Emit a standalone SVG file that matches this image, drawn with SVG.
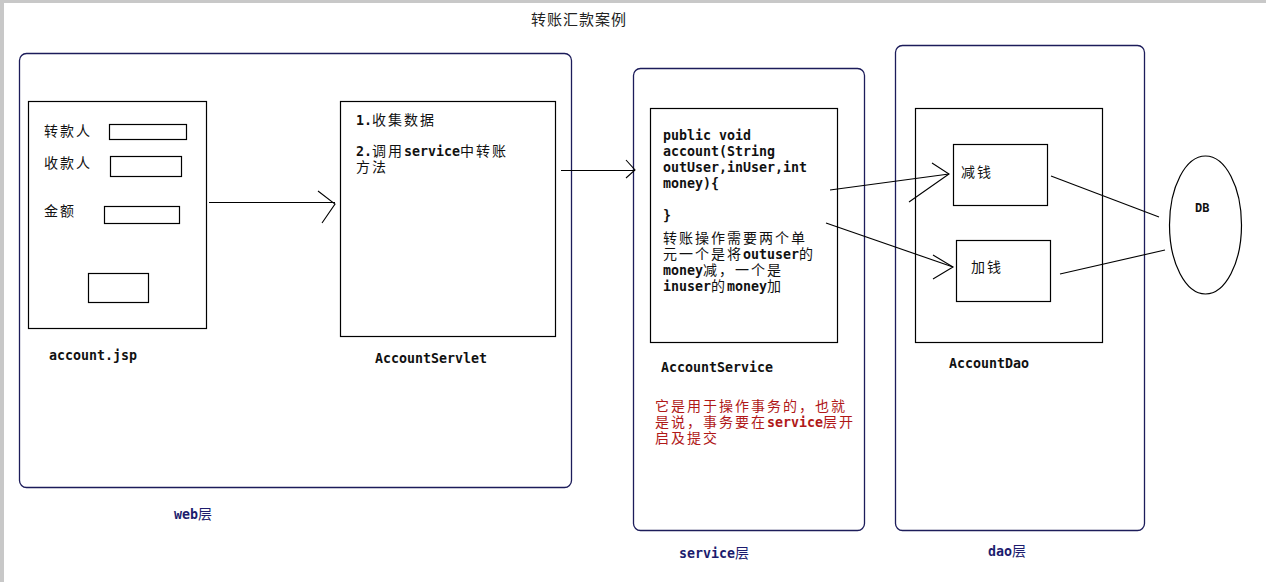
<svg xmlns="http://www.w3.org/2000/svg" width="1266" height="582" viewBox="0 0 1266 582">
<defs>
<style>
.bg{fill:#ffffff}
.layer{fill:none;stroke:#1c1c5a;stroke-width:1.3}
.box{fill:none;stroke:#000;stroke-width:1.2}
.ln{fill:none;stroke:#000;stroke-width:1.1}
.cn{font-family:"Noto Sans CJK SC","Noto Sans",sans-serif;font-size:14px;font-weight:normal;letter-spacing:2px;fill:#111}
.mono{font-family:"DejaVu Sans Mono","Liberation Mono",monospace;font-size:13.3px;font-weight:bold;letter-spacing:0;fill:#111}
.navy{fill:#1c1c6e}
.red{fill:#b01818}
.title{font-family:"Noto Sans CJK SC",sans-serif;font-size:15px;font-weight:normal;letter-spacing:1px;fill:#222}
</style>
</defs>
<rect class="bg" x="0" y="0" width="1266" height="582"/>
<rect x="0" y="0" width="1266" height="3" fill="#c8c8c8"/>
<rect x="0" y="0" width="4" height="582" fill="#c8c8c8"/>

<text class="title" x="531" y="25">转账汇款案例</text>

<g id="web-layer">
<rect class="layer" x="19.5" y="53.5" width="552" height="434" rx="7"/>
<text class="mono navy" x="174" y="519">web<tspan class="cn navy">层</tspan></text>
</g>

<g id="account-jsp">
<rect class="box" x="28.5" y="101.5" width="178" height="227"/>
<text class="cn" x="44" y="136">转款人</text>
<rect class="box" x="109.5" y="124.5" width="77" height="15"/>
<text class="cn" x="44" y="168">收款人</text>
<rect class="box" x="110.5" y="156.5" width="71" height="20"/>
<text class="cn" x="44" y="216">金额</text>
<rect class="box" x="104.5" y="206.5" width="75" height="17"/>
<rect class="box" x="88.5" y="273.5" width="60" height="29"/>
<text class="mono" x="49" y="360">account.jsp</text>
</g>

<g id="account-servlet">
<rect class="box" x="340.5" y="101.5" width="215" height="235"/>
<text class="mono" x="356" y="125">1.<tspan class="cn">收集数据</tspan></text>
<text class="mono" x="356" y="156">2.<tspan class="cn">调用</tspan>service<tspan class="cn">中转账</tspan></text>
<text class="cn" x="356" y="172">方法</text>
<text class="mono" x="375" y="363">AccountServlet</text>
</g>

<g id="service-layer">
<rect class="layer" x="633.5" y="68.5" width="231" height="462" rx="7"/>
<text class="mono navy" x="679" y="558">service<tspan class="cn navy">层</tspan></text>
</g>

<g id="account-service">
<rect class="box" x="650.5" y="108.5" width="187" height="234"/>
<text class="mono" x="663" y="140">public void</text>
<text class="mono" x="663" y="156">account(String</text>
<text class="mono" x="663" y="172">outUser,inUser,int</text>
<text class="mono" x="663" y="188">money){</text>
<text class="mono" x="663" y="220">}</text>
<text class="cn" x="663" y="243">转账操作需要两个单</text>
<text class="cn" x="663" y="259">元一个是将<tspan class="mono">outuser</tspan>的</text>
<text class="mono" x="663" y="275">money<tspan class="cn">减，一个是</tspan></text>
<text class="mono" x="663" y="291">inuser<tspan class="cn">的</tspan>money<tspan class="cn">加</tspan></text>
<text class="mono" x="661" y="372">AccountService</text>
<text class="cn red" x="655" y="411">它是用于操作事务的，也就</text>
<text class="cn red" x="655" y="427">是说，事务要在<tspan class="mono red">service</tspan>层开</text>
<text class="cn red" x="655" y="443">启及提交</text>
</g>

<g id="dao-layer">
<rect class="layer" x="895.5" y="45.5" width="249" height="485" rx="7"/>
<text class="mono navy" x="988" y="556">dao<tspan class="cn navy">层</tspan></text>
</g>

<g id="account-dao">
<rect class="box" x="915.5" y="108.5" width="187" height="234"/>
<text class="mono" x="949" y="368">AccountDao</text>
</g>

<g id="minus-money">
<rect class="box" x="953.5" y="144.5" width="94" height="61"/>
<text class="cn" x="961" y="177">减钱</text>
</g>

<g id="plus-money">
<rect class="box" x="956.5" y="240.5" width="94" height="61"/>
<text class="cn" x="971" y="272">加钱</text>
</g>

<g id="db">
<ellipse class="box" cx="1205.5" cy="225" rx="36" ry="69"/>
<text class="mono" x="1195" y="212" style="font-size:12px">DB</text>
</g>

<g id="connectors">
<line class="ln" x1="209" y1="202.5" x2="335" y2="202.5"/>
<polyline class="ln" points="318,191 335,204 322,223"/>
<line class="ln" x1="561" y1="170.5" x2="635" y2="170.5"/>
<polyline class="ln" points="626,160 635,170 626,178"/>
<line class="ln" x1="830" y1="190" x2="949" y2="174"/>
<polyline class="ln" points="932,163 949,174 909,202"/>
<line class="ln" x1="826" y1="223" x2="953" y2="267"/>
<polyline class="ln" points="933,255 953,267 933,279"/>
<line class="ln" x1="1051" y1="176" x2="1159" y2="217"/>
<line class="ln" x1="1060" y1="274" x2="1165" y2="250"/>
</g>
</svg>
